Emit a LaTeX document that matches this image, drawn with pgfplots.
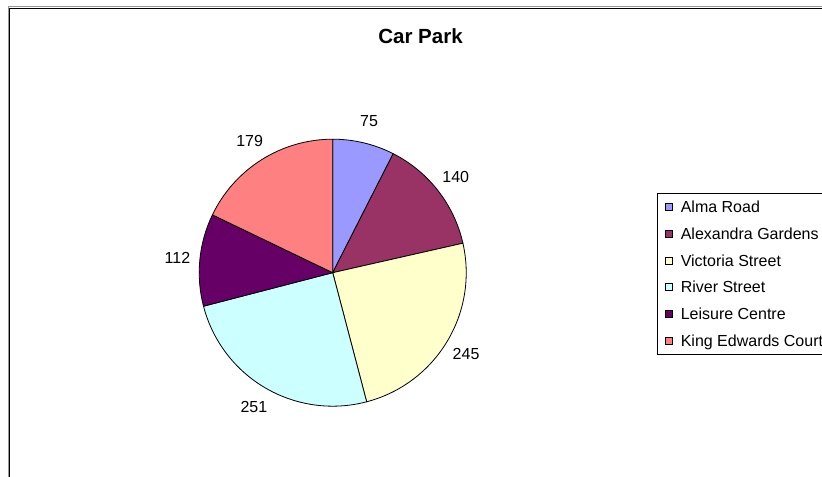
\documentclass[border=0pt]{standalone}
\usepackage{fontspec}
\setmainfont{Liberation Sans}
\usepackage{pgfplots}
\usepackage{pgfplotstable}
\pgfplotsset{compat=1.18}
\definecolor{cA}{HTML}{9999FF}
\definecolor{cB}{HTML}{993366}
\definecolor{cC}{HTML}{FFFFCC}
\definecolor{cD}{HTML}{CCFFFF}
\definecolor{cE}{HTML}{660066}
\definecolor{cF}{HTML}{FF8080}
\newcommand\labelfont{\fontsize{16bp}{19bp}\selectfont}
\pgfplotstableread[col sep=comma]{
name,value,color
Alma Road,75,cA
Alexandra Gardens,140,cB
Victoria Street,245,cC
River Street,251,cD
Leisure Centre,112,cE
King Edwards Court,179,cF
}\pietable
\pgfplotstablegetrowsof{\pietable}
\pgfmathtruncatemacro\lastrow{\pgfplotsretval-1}
\def\total{0}
\pgfplotsforeachungrouped \i in {0,...,\lastrow}{%
  \pgfplotstablegetelem{\i}{value}\of\pietable
  \pgfmathsetmacro\total{\total+\pgfplotsretval}%
}
\begin{document}
\begin{tikzpicture}[x=1bp,y=1bp]
\useasboundingbox (0,0) rectangle (822,477);
\draw[black!40, line width=1bp] (8,-20) -- (8,470.2) -- (900,470.2);
\draw[black, line width=1bp] (9.5,-20) -- (9.5,468.7) -- (900,468.7);
\begin{axis}[
  at={(0,0)}, anchor=south west, scale only axis,
  width=822bp, height=477bp,
  xmin=0, xmax=822, ymin=0, ymax=477,
  hide axis, clip=false,
  title={Car Park},
  title style={font=\fontsize{20.5bp}{24bp}\selectfont\bfseries,
    at={(axis description cs:0.5116,0.926)}, anchor=center, yshift=-6.5bp},
  legend image code/.code={\draw[#1, line width=0.6bp] (0bp,-3.4bp) rectangle (7bp,3.4bp);},
  legend cell align=left,
  legend style={at={(axis description cs:0.79964,0.59602)}, anchor=north west,
    draw=black, line width=0.75bp, fill=white,
    inner xsep=7.7bp, inner ysep=7.25bp, row sep=13.17bp,
    font=\labelfont,
    nodes={inner sep=0pt, text height=12.5bp, text depth=1bp, anchor=west},
    /tikz/every odd column/.append style={column sep=7.8bp}},
]
\def\cum{0}%
\pgfplotsforeachungrouped \i in {0,...,\lastrow}{%
  \pgfplotstablegetelem{\i}{value}\of\pietable \let\v\pgfplotsretval
  \pgfplotstablegetelem{\i}{color}\of\pietable \let\c\pgfplotsretval
  \pgfplotstablegetelem{\i}{name}\of\pietable \let\n\pgfplotsretval
  \pgfmathsetmacro\a{90-360*(\cum/\total)}%
  \pgfmathsetmacro\cum{\cum+\v}%
  \pgfmathsetmacro\b{90-360*(\cum/\total)}%
  \pgfmathsetmacro\m{(\a+\b)/2}%
  \edef\cmd{%
    \noexpand\filldraw[fill=\c,draw=black,line width=0.8bp] (axis cs:332.7,204.3) -- ++(\a:133.5bp) arc[start angle=\a,end angle=\b,radius=133.5bp] -- cycle;
    \noexpand\path (axis cs:332.7,204.3) ++(\m:156bp) node[font=\noexpand\labelfont] {\v};
    \noexpand\addlegendimage{fill=\c,draw=black}
    \noexpand\addlegendentry{\n}
  }\cmd
}
\end{axis}
\end{tikzpicture}
\end{document}
